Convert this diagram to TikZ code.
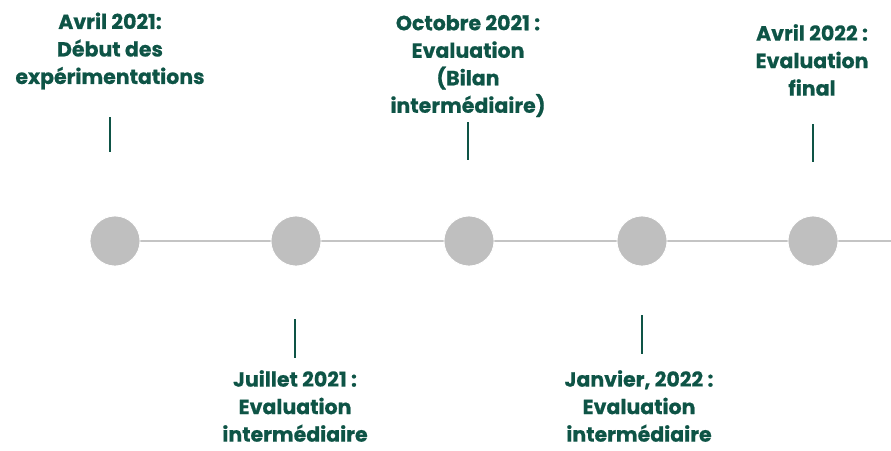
\documentclass[tikz,border=0pt]{standalone}
\usepackage{fontspec}
\setmainfont{Poppins}[BoldFeatures={FakeBold=0.6}]
\definecolor{tealgreen}{RGB}{14,84,70}
\definecolor{dotgray}{RGB}{191,191,191}
\definecolor{linegray}{RGB}{196,196,196}
\tikzset{
  dot/.style={circle, fill=dotgray, draw=white, line width=0.8pt, minimum size=50pt, inner sep=0pt},
  label/.style={align=center, text=tealgreen, inner sep=0pt, font=\bfseries\fontsize{20.5}{27.5}\selectfont},
  tick/.style={draw=tealgreen, line width=2.8pt},
  axis/.style={draw=linegray, line width=2pt}
}
\begin{document}
\begin{tikzpicture}[x=1pt,y=-1pt]
\useasboundingbox (0,0) rectangle (891,450);
% axis
\coordinate (start) at (115,241);
\coordinate (finish) at (893,241);
\draw[axis] (start) -- (finish);
% dots
\node[dot] (c1) at (115,241) {};
\node[dot] (c2) at (296,241) {};
\node[dot] (c3) at (469,241) {};
\node[dot] (c4) at (642,241) {};
\node[dot] (c5) at (813,241) {};
% ticks
\coordinate (t1a) at (110,117); \coordinate (t1b) at (110,152);
\coordinate (t2a) at (295,319); \coordinate (t2b) at (295,358);
\coordinate (t3a) at (468,122); \coordinate (t3b) at (468,160);
\coordinate (t4a) at (642,315); \coordinate (t4b) at (642,354);
\coordinate (t5a) at (813,124); \coordinate (t5b) at (813,162);
\draw[tick] (t1a) -- (t1b);
\draw[tick] (t2a) -- (t2b);
\draw[tick] (t3a) -- (t3b);
\draw[tick] (t4a) -- (t4b);
\draw[tick] (t5a) -- (t5b);
% labels
\node[label] (l1) at (110,51) {Avril 2021:\\Début des\\expérimentations};
\node[label] (l2) at (295,406) {Juillet 2021 :\\Evaluation\\intermédiaire};
\node[label] (l3) at (468,66) {Octobre 2021 :\\Evaluation\\(Bilan\\intermédiaire)};
\node[label] (l4) at (639,406) {Janvier, 2022 :\\Evaluation\\intermédiaire};
\node[label] (l5) at (812,60) {Avril 2022 :\\Evaluation\\final};
\end{tikzpicture}
\end{document}
